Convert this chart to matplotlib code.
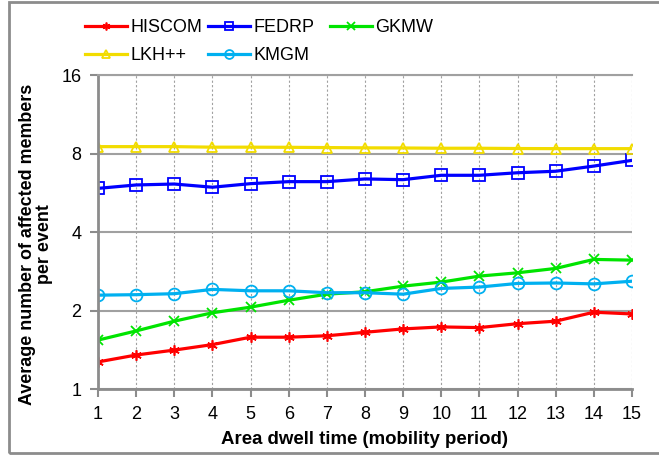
import matplotlib
matplotlib.use("Agg")
import matplotlib.pyplot as plt
from matplotlib.patches import Rectangle
from matplotlib.ticker import FixedLocator, FixedFormatter, NullLocator

plt.rcParams["font.family"] = ["Liberation Sans", "DejaVu Sans"]

# =====================================
# DATA
# =====================================
periods = list(range(1, 16))

hiscom = [1.27, 1.35, 1.41, 1.48, 1.58, 1.58, 1.60, 1.65, 1.70, 1.73, 1.72, 1.78, 1.82, 1.97, 1.94]
fedrp = [5.88, 6.06, 6.11, 5.94, 6.13, 6.24, 6.24, 6.39, 6.35, 6.60, 6.60, 6.75, 6.84, 7.16, 7.53]
gkmw = [1.54, 1.67, 1.82, 1.96, 2.06, 2.19, 2.31, 2.36, 2.48, 2.57, 2.71, 2.79, 2.90, 3.14, 3.12]
lkh = [8.50, 8.50, 8.50, 8.46, 8.46, 8.45, 8.43, 8.41, 8.40, 8.38, 8.38, 8.36, 8.35, 8.35, 8.35]
kmgm = [2.29, 2.30, 2.32, 2.41, 2.38, 2.38, 2.34, 2.34, 2.31, 2.43, 2.46, 2.54, 2.55, 2.53, 2.59]

y_ticks = [1, 2, 4, 8, 16]
y_tick_labels = ["1", "2", "4", "8", "16"]

# =====================================
# FIGURE
# =====================================
fig = plt.figure(figsize=(6.59, 4.59), dpi=100)
ax = fig.add_axes([0.1487, 0.1525, 0.8103, 0.6841])

# outer frame
fig.patches.append(Rectangle((9 / 659, 6 / 459), 1.2, 451 / 459,
                             transform=fig.transFigure, fill=False,
                             edgecolor="#8c8c8c", linewidth=2.0))

lw = 2.3
ms = 7.5

h_hiscom, = ax.plot(periods, hiscom, color="#ff0000", lw=lw,
                    marker=(6, 2, 0), ms=ms, mew=1.2, label="HISCOM")
h_fedrp, = ax.plot(periods, fedrp, color="#0000ff", lw=lw,
                   marker="s", ms=ms + 1, mfc="none", mew=1.3, label="FEDRP")
h_gkmw, = ax.plot(periods, gkmw, color="#00e400", lw=lw,
                  marker="x", ms=ms, mew=1.3, label="GKMW")
h_lkh, = ax.plot(periods, lkh, color="#f2dc00", lw=lw,
                 marker="^", ms=ms, mfc="none", mew=1.3, label="LKH++")
h_kmgm, = ax.plot(periods, kmgm, color="#00b0f0", lw=lw,
                  marker="o", ms=ms + 1, mfc="none", mew=1.3, label="KMGM")

ax.set_yscale("log", base=2)
ax.set_ylim(1, 16)
ax.set_xlim(1, 15)
ax.yaxis.set_major_locator(FixedLocator(y_ticks))
ax.yaxis.set_major_formatter(FixedFormatter(y_tick_labels))
ax.yaxis.set_minor_locator(NullLocator())
ax.set_xticks(periods)

# grid
ax.grid(axis="y", color="#a0a0a0", lw=1.5, ls="-")
ax.grid(axis="x", color="#a0a0a0", lw=0.8, ls=(0, (2, 2)))
ax.set_axisbelow(True)

for side in ["left", "bottom"]:
    ax.spines[side].set_color("#8c8c8c")
    ax.spines[side].set_linewidth(2.0)
ax.spines["top"].set_color("#a0a0a0")
ax.spines["top"].set_linewidth(1.5)
ax.spines["right"].set_visible(False)

ax.tick_params(axis="both", direction="out", length=6, width=1.5,
               color="#8c8c8c", labelsize=13, pad=6)

ax.set_xlabel("Area dwell time (mobility period)", fontsize=13.4,
              fontweight="bold", labelpad=6)
ax.set_ylabel("Average number of affected members\nper event", fontsize=12.9,
              fontweight="bold", linespacing=1.0)
ax.yaxis.set_label_coords(-0.084, 0.46)
ax.yaxis.label.set_multialignment("center")

# legend: one column at a time, so columns are evenly spaced
legend_cols = [
    ([h_hiscom, h_lkh], ["HISCOM", "LKH++"], 85),
    ([h_fedrp, h_kmgm], ["FEDRP", "KMGM"], 208),
    ([h_gkmw], ["GKMW"], 330),
]
for handles, labels, x_px in legend_cols:
    fig.legend(handles, labels, frameon=False, fontsize=13,
               loc="upper left", bbox_to_anchor=(x_px / 659, 1 - 19 / 459),
               borderpad=0, borderaxespad=0,
               handlelength=2.3, handletextpad=0.2,
               labelspacing=0.6, markerscale=0.75)

fig.savefig("out.png", dpi=100)
